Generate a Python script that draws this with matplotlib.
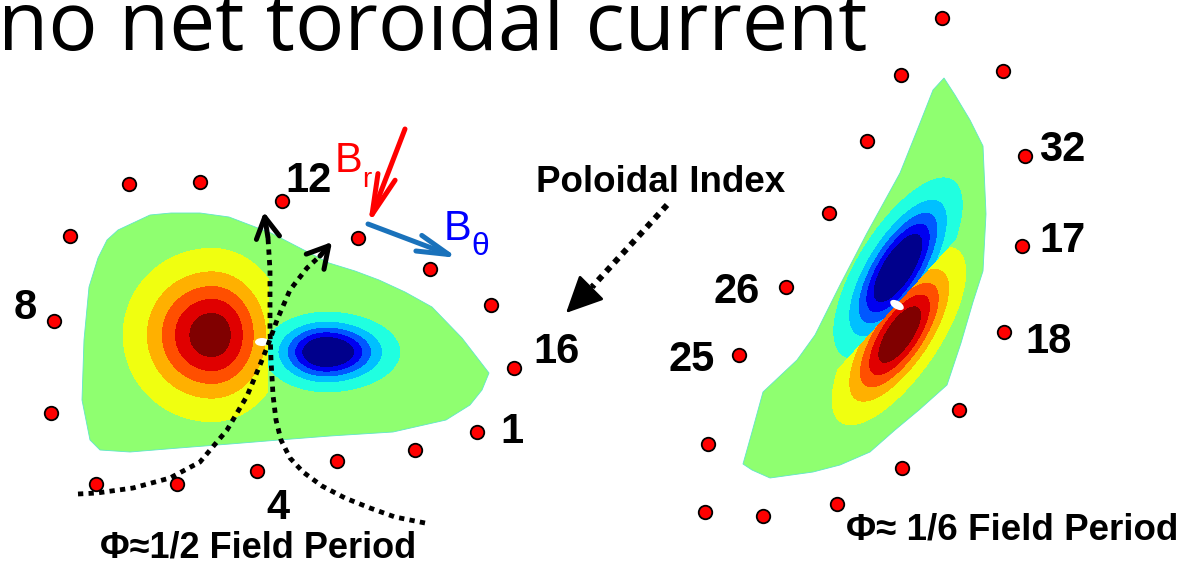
import numpy as np
import matplotlib.pyplot as plt
from matplotlib.patches import Polygon, Ellipse

W, H = 1199, 564
PX = 0.72  # points per pixel at dpi 100

# ---- probe positions (poloidal index markers), pixel coords ----
left_probe_x = [129, 200, 70, 54, 51, 96, 177, 257, 337, 415, 477, 514, 491, 430, 358, 282]
left_probe_y = [184, 182, 236, 321, 413, 484, 484, 471, 461, 450, 432, 368, 305, 269, 238, 201]
right_probe_x = [942, 901, 1003, 867, 1025, 829, 1022, 786, 1004, 739, 959, 708, 902, 705, 763, 837]
right_probe_y = [18, 75, 71, 141, 156, 213, 246, 287, 332, 355, 410, 444, 468, 512, 516, 504]

# ---- probe index labels ----
left_labels = ["12", "8", "16", "1", "4"]
left_label_x = [308, 25, 556, 512, 278]
left_label_y = [181, 308, 352, 432, 508]
right_labels = ["32", "17", "18", "26", "25"]
right_label_x = [1062, 1063, 1049, 737, 692]
right_label_y = [150, 241, 342, 292, 360]

# ---- plasma cross-section outlines ----
left_shape_x = [118, 150, 171, 200, 229, 271, 300, 329, 355, 379, 405, 432, 462, 489,
                482, 470, 446, 393, 330, 279, 230, 179, 130, 100, 90, 86, 82, 84, 89, 98, 107]
left_shape_y = [230, 215, 213, 213, 217, 233, 248, 263, 271, 280, 292, 307, 338, 373,
                390, 405, 420, 432, 436, 440, 444, 448, 452, 450, 440, 420, 400, 340, 287, 258, 240]
right_shape_x = [944, 955, 970, 983, 986, 983, 973, 961, 947, 919, 895, 870, 840, 813, 770,
                 752, 743, 752, 763, 797, 815, 840, 867, 900, 920, 933]
right_shape_y = [78, 95, 120, 146, 214, 271, 302, 343, 385, 410, 430, 452, 465, 472, 478,
                 470, 464, 432, 392, 360, 335, 285, 233, 173, 123, 90]

# ---- mode structure: lobes (cx, cy, amp, sigma_u-, sigma_u+, sigma_v, angle deg) ----
left_lobe_cx = [212, 326]
left_lobe_cy = [335, 352]
left_lobe_amp = [1.04, -1.31]
left_lobe_su_neg = [41, 28]
left_lobe_su_pos = [34, 33]
left_lobe_sv = [40, 18]
left_lobe_ang = [0, 0]
left_split = (268, 342, 90)      # current sheet: point + direction angle

right_lobe_cx = [898, 900]
right_lobe_cy = [268, 334]
right_lobe_amp = [-1.31, 1.14]
right_lobe_su_neg = [46, 48]
right_lobe_su_pos = [46, 46]
right_lobe_sv = [18, 18]
right_lobe_ang = [58, 56]
right_split = (897, 305, 47.6)

# small holes at the null point
hole_x = [262, 897]
hole_y = [342, 305]
hole_w = [14, 8]
hole_h = [8, 15]
hole_ang = [0, -60]

levels = [-10, -0.9, -0.7, -0.5, -0.3, -0.1, 0.1, 0.3, 0.5, 0.7, 0.9, 10]
band_colors = ["#00008c", "#0000f0", "#0058ff", "#00c0ff", "#20ffe0", "#8fff70",
               "#f0ff10", "#ffb000", "#ff4f00", "#e00000", "#800000"]


def lobe(X, Y, cx, cy, amp, su_neg, su_pos, sv, ang):
    a = np.deg2rad(ang)
    dx, dy = X - cx, -(Y - cy)
    u = dx * np.cos(a) + dy * np.sin(a)
    v = -dx * np.sin(a) + dy * np.cos(a)
    su = np.where(u < 0, su_neg, su_pos)
    return amp * np.exp(-0.5 * ((u / su) ** 2 + (v / sv) ** 2))


def draw_mode(ax, sx, sy, cx, cy, amp, sun, sup, sv, ang, split):
    xs = np.arange(min(sx) - 5, max(sx) + 5, 1.0)
    ys = np.arange(min(sy) - 5, max(sy) + 5, 1.0)
    X, Y = np.meshgrid(xs, ys)
    fa = lobe(X, Y, cx[0], cy[0], amp[0], sun[0], sup[0], sv[0], ang[0])
    fb = lobe(X, Y, cx[1], cy[1], amp[1], sun[1], sup[1], sv[1], ang[1])
    px, py, pa = split
    a = np.deg2rad(pa)
    s = (X - px) * np.sin(a) + (Y - py) * np.cos(a)
    Z = np.where(s < 0, fa, fb)
    poly = Polygon(np.column_stack([sx, sy]), closed=True, facecolor="none",
                   edgecolor="#5fe6c8", lw=0.6, zorder=2)
    ax.add_patch(poly)
    cs = ax.contourf(X, Y, Z, levels=levels, colors=band_colors, zorder=1)
    cs.set_clip_path(poly)


fig = plt.figure(figsize=(W / 100, H / 100), dpi=100)
ax = fig.add_axes([0, 0, 1, 1])
ax.set_xlim(0, W)
ax.set_ylim(H, 0)
ax.axis("off")

draw_mode(ax, left_shape_x, left_shape_y, left_lobe_cx, left_lobe_cy, left_lobe_amp,
          left_lobe_su_neg, left_lobe_su_pos, left_lobe_sv, left_lobe_ang, left_split)
draw_mode(ax, right_shape_x, right_shape_y, right_lobe_cx, right_lobe_cy, right_lobe_amp,
          right_lobe_su_neg, right_lobe_su_pos, right_lobe_sv, right_lobe_ang, right_split)

for hx, hy, hw, hh, ha in zip(hole_x, hole_y, hole_w, hole_h, hole_ang):
    ax.add_patch(Ellipse((hx, hy), hw, hh, angle=ha, facecolor="white", edgecolor="none", zorder=3))

# ---- dotted field-line paths with arrow heads ----
curve1_x = [78, 97, 133, 170, 200, 227, 247, 260, 268, 277, 290, 307, 320]
curve1_y = [494, 493, 488, 478, 462, 430, 396, 365, 345, 320, 290, 268, 256]
curve2_x = [425, 395, 370, 345, 322, 303, 290, 281, 276, 273, 271, 270, 270, 270, 268]
curve2_y = [523, 517, 508, 498, 486, 472, 458, 440, 420, 395, 360, 330, 300, 270, 238]
dot_style = dict(color="k", lw=4.8 * PX, linestyle=(0, (1.1, 1.1)), dash_capstyle="butt", zorder=4)
ax.plot(curve1_x, curve1_y, **dot_style)
ax.plot(curve2_x, curve2_y, **dot_style)
chevron = dict(arrowstyle="->,head_length=0.75,head_width=0.42", color="k",
               lw=5 * PX, mutation_scale=20, shrinkA=0, shrinkB=0)
ax.annotate("", xy=(332, 242), xytext=(320, 256), arrowprops=chevron, zorder=5)
ax.annotate("", xy=(264, 212), xytext=(268, 238), arrowprops=chevron, zorder=5)

# poloidal index pointer
pol_x = [667, 592]
pol_y = [205, 287]
ax.plot(pol_x, pol_y, color="k", lw=6 * PX, linestyle=(0, (1, 1)), dash_capstyle="butt", zorder=4)
ax.annotate("", xy=(566, 313), xytext=(592, 287),
            arrowprops=dict(arrowstyle="-|>,head_length=1.15,head_width=0.55", color="k",
                            lw=2, mutation_scale=20, shrinkA=0, shrinkB=0), zorder=5)

# B_r and B_theta arrows
vec = dict(lw=5 * PX, mutation_scale=20, shrinkA=0, shrinkB=0)
ax.annotate("", xy=(368, 225), xytext=(405, 129),
            arrowprops=dict(arrowstyle="->,head_length=1.45,head_width=0.33", color="#ff0000", **vec), zorder=5)
ax.annotate("", xy=(458, 258), xytext=(368, 224),
            arrowprops=dict(arrowstyle="->,head_length=1.15,head_width=0.3", color="#1a72bb", **vec), zorder=5)

# probes
ax.plot(left_probe_x + right_probe_x, left_probe_y + right_probe_y, "o", ms=13.5 * PX,
        mfc="#ff0000", mec="k", mew=1.3, ls="none", zorder=6)

# ---- text ----
fam = ["Liberation Sans", "DejaVu Sans"]
ax.text(-2, 50, "no net toroidal current", fontsize=59, family="Open Sans",
        ha="left", va="baseline", zorder=7)
for t, x, y in zip(left_labels + right_labels, left_label_x + right_label_x,
                   left_label_y + right_label_y):
    ax.text(x, y, t, fontsize=30, family=fam, weight="bold", ha="center", va="center", zorder=7)

ax.text(661, 192, "Poloidal Index", fontsize=26.5, family=fam, weight="bold",
        ha="center", va="baseline", zorder=7)
ax.text(258, 558, "\u03a6\u22481/2 Field Period", fontsize=26, family=fam, weight="bold",
        ha="center", va="baseline", zorder=7)
ax.text(1012, 540, "\u03a6\u2248 1/6 Field Period", fontsize=26.5, family=fam, weight="bold",
        ha="center", va="baseline", zorder=7)

ax.text(335, 172, "B", fontsize=30, family=fam, color="#ff0000", ha="left", va="baseline", zorder=7)
ax.text(362, 187, "r", fontsize=20, family=fam, color="#ff0000", ha="left", va="baseline", zorder=7)
ax.text(444, 240, "B", fontsize=30, family=fam, color="#0000ff", ha="left", va="baseline", zorder=7)
ax.text(471, 255, "\u03b8", fontsize=23, family=fam, color="#0000ff", ha="left", va="baseline", zorder=7)

fig.savefig("out.png", dpi=100)
